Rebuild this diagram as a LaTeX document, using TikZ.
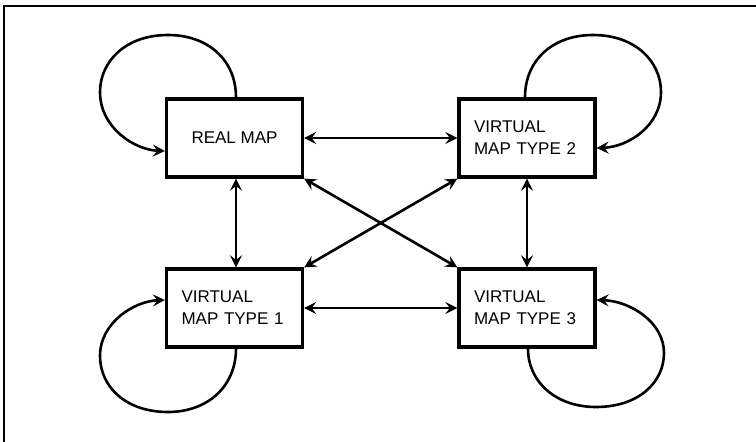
\documentclass[tikz,border=0pt]{standalone}
\usepackage{fontspec}
\setmainfont{Liberation Sans}
\usetikzlibrary{arrows.meta}
\begin{document}
\begin{tikzpicture}[x=1pt,y=-1pt,
  mapbox/.style={draw, line width=3.3pt, minimum width=136pt, minimum height=78pt,
    inner sep=0pt, font=\fontsize{17}{22}\selectfont},
  vtext/.style={text width=106pt, align=left},
  tip/.style={Stealth[length=12pt,width=12pt,inset=4.5pt]},
  link/.style={line width=2.6pt, {Stealth[length=12pt,width=12pt,inset=4.5pt]}-{Stealth[length=12pt,width=12pt,inset=4.5pt]}},
  loop/.style={line width=2.6pt, -{Stealth[length=12pt,width=12pt,inset=4.5pt]}},
  frame/.style={line width=2pt}]
\useasboundingbox (0,0) rectangle (756,442);
% frame (top and left only)
\coordinate (f1) at (4,6);
\coordinate (f2) at (756,6);
\coordinate (f3) at (4,442);
\draw[frame] (f2) -- (f1) -- (f3);
% boxes
\node[mapbox] (real) at (234.5,138) {REAL MAP};
\node[mapbox, vtext] (v2) at (527,138) {VIRTUAL\\MAP TYPE 2};
\node[mapbox, vtext] (v1) at (234.5,308) {VIRTUAL\\MAP TYPE 1};
\node[mapbox, vtext] (v3) at (527,308) {VIRTUAL\\MAP TYPE 3};
% links
\draw[link] (real.east) -- (v2.west);
\draw[link] (v1.east) -- (v3.west);
\draw[link] ([xshift=1.5pt]real.south) -- ([xshift=1.5pt]v1.north);
\draw[link] (v2.south) -- (v3.north);
\draw[link] (real.south east) -- (v3.north west);
\draw[link] (v2.south west) -- (v1.north east);
% self loops
\draw[loop] ([xshift=1.5pt]real.north) .. controls (236,60) and (208,35) .. (168,35)
  .. controls (125,35) and (100,62) .. (100,92)
  .. controls (100,128) and (135,150) .. ([yshift=-13pt]real.west);
\draw[loop] ([xshift=-2pt]v2.north) .. controls (525,60) and (553,35) .. (593,35)
  .. controls (636,35) and (661,62) .. (661,92)
  .. controls (661,126) and (628,147) .. ([yshift=-10pt]v2.east);
\draw[loop] ([xshift=1.5pt]v1.south) .. controls (236,386) and (208,412) .. (168,412)
  .. controls (125,412) and (100,386) .. (100,356)
  .. controls (100,322) and (135,301) .. ([yshift=8pt]v1.west);
\draw[loop] ([xshift=1pt]v3.south) .. controls (528,382) and (556,407) .. (596,407)
  .. controls (639,407) and (664,382) .. (664,353)
  .. controls (664,322) and (630,301) .. ([yshift=8pt]v3.east);
\end{tikzpicture}
\end{document}
